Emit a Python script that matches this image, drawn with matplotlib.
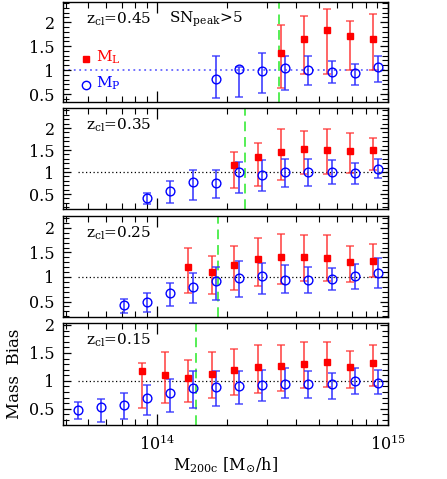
import matplotlib
matplotlib.use("Agg")
import matplotlib.pyplot as plt
from matplotlib.ticker import LogLocator, MultipleLocator, NullFormatter, FixedLocator
import numpy as np

plt.rcParams['font.family'] = ['DejaVu Serif']
plt.rcParams['mathtext.fontset'] = 'dejavuserif'

# mass bin centres (M_sun/h)
mass_bins = [4.52e13, 5.69e13, 7.16e13, 9.02e13, 1.135e14, 1.429e14, 1.80e14,
             2.26e14, 2.85e14, 3.59e14, 4.52e14, 5.69e14, 7.16e14, 9.02e14]

redshifts = ["0.45", "0.35", "0.25", "0.15"]
mass_cut = [3.38e14, 2.40e14, 1.84e14, 1.47e14]

# M_P (blue) : first bin index, value, lower bound, upper bound
mp_start = [6, 3, 2, 0]
mp_val = [
    [0.82, 1.03, 0.98, 1.05, 1.01, 0.97, 0.94, 1.06],
    [0.42, 0.58, 0.77, 0.76, 1.00, 0.93, 1.01, 1.01, 1.01, 0.97, 1.06],
    [0.43, 0.50, 0.68, 0.80, 0.92, 0.97, 1.01, 0.94, 0.94, 0.95, 1.01, 1.09],
    [0.48, 0.53, 0.56, 0.69, 0.79, 0.87, 0.89, 0.90, 0.93, 0.94, 0.94, 0.94, 0.99, 0.96],
]
mp_lo = [
    [0.41, 0.44, 0.53, 0.58, 0.68, 0.72, 0.69, 0.76],
    [0.28, 0.30, 0.36, 0.42, 0.52, 0.58, 0.67, 0.68, 0.72, 0.72, 0.87],
    [0.26, 0.29, 0.41, 0.46, 0.53, 0.59, 0.66, 0.67, 0.68, 0.73, 0.75, 0.78],
    [0.32, 0.27, 0.32, 0.39, 0.45, 0.51, 0.55, 0.58, 0.64, 0.69, 0.69, 0.68, 0.76, 0.76],
]
mp_hi = [
    [1.29, 1.06, 1.36, 1.29, 1.29, 1.19, 1.13, 1.29],
    [0.53, 0.80, 1.05, 1.05, 1.23, 1.27, 1.29, 1.29, 1.27, 1.21, 1.29],
    [0.56, 0.68, 0.88, 1.09, 1.21, 1.33, 1.29, 1.24, 1.21, 1.19, 1.27, 1.38],
    [0.63, 0.67, 0.79, 0.93, 1.04, 1.17, 1.17, 1.17, 1.20, 1.23, 1.17, 1.14, 1.23, 1.20],
]

# M_L (red)
ml_start = [9, 7, 5, 3]
ml_val = [
    [1.36, 1.64, 1.83, 1.72, 1.64],
    [1.17, 1.35, 1.45, 1.53, 1.50, 1.48, 1.50],
    [1.20, 1.10, 1.24, 1.36, 1.41, 1.41, 1.38, 1.31, 1.33],
    [1.17, 1.11, 1.06, 1.13, 1.20, 1.24, 1.27, 1.30, 1.33, 1.24, 1.32],
]
ml_lo = [
    [0.63, 0.91, 0.91, 1.00, 1.00],
    [0.64, 0.68, 0.83, 0.96, 0.96, 0.98, 1.04],
    [0.68, 0.65, 0.73, 0.82, 0.86, 0.92, 0.92, 0.90, 0.99],
    [0.51, 0.60, 0.62, 0.69, 0.75, 0.78, 0.82, 0.87, 0.89, 0.87, 0.91],
]
ml_hi = [
    [1.94, 2.13, 2.28, 2.02, 2.18],
    [1.45, 1.67, 1.97, 1.93, 1.97, 1.88, 1.78],
    [1.60, 1.43, 1.63, 1.79, 1.88, 1.85, 1.85, 1.63, 1.68],
    [1.32, 1.51, 1.38, 1.51, 1.57, 1.65, 1.65, 1.69, 1.69, 1.54, 1.65],
]

ylims = [(0.34, 2.42), (0.16, 2.45), (0.19, 2.25), (0.21, 2.03)]

W, H = 447, 479
fig = plt.figure(figsize=(W / 100, H / 100), dpi=100)
left = 63 / W
width = (388 - 63) / W
frames = [(2, 101.7), (108.3, 209), (215.7, 316.7), (323.3, 425)]

red_off = 0.955
for p in range(4):
    top, bot = frames[p]
    ax = fig.add_axes([left, (H - bot) / H, width, (bot - top) / H])
    ax.set_xscale('log')
    ax.set_xlim(3.9e13, 1.0e15)
    ax.set_ylim(*ylims[p])

    # reference line
    if p == 0:
        ax.axhline(1.0, color='#6666ff', ls=(0, (1, 2)), lw=1.3, zorder=1)
    else:
        ax.hlines(1.0, mass_bins[0], 1.0e15, color='black', ls=(0, (1, 2)), lw=0.9, zorder=1)

    ax.axvline(mass_cut[p], color='#55ee55', ls=(0, (5, 3)), lw=1.4, zorder=2)

    # red M_L
    s = ml_start[p]
    n = len(ml_val[p])
    xr = np.array(mass_bins[s:s + n]) * red_off
    v = np.array(ml_val[p]); lo = np.array(ml_lo[p]); hi = np.array(ml_hi[p])
    ax.errorbar(xr, v, yerr=[v - lo, hi - v], fmt='none', ecolor='#ff3030',
                elinewidth=1.3, capsize=3, capthick=1.1, alpha=0.8, zorder=3)
    ax.plot(xr, v, 's', color='red', ms=4.5, mec='red', zorder=4)

    # blue M_P
    s = mp_start[p]
    n = len(mp_val[p])
    xb = np.array(mass_bins[s:s + n])
    v = np.array(mp_val[p]); lo = np.array(mp_lo[p]); hi = np.array(mp_hi[p])
    ax.errorbar(xb, v, yerr=[v - lo, hi - v], fmt='none', ecolor='#3030ff',
                elinewidth=1.3, capsize=3, capthick=1.1, alpha=0.85, zorder=3)
    ax.plot(xb, v, 'o', mfc='none', mec='blue', mew=1.0, ms=6.3, zorder=4)

    # ticks
    ax.yaxis.set_major_locator(FixedLocator([0.5, 1.0, 1.5, 2.0]))
    ax.yaxis.set_minor_locator(MultipleLocator(0.1))
    ax.set_yticklabels(['0.5', '1', '1.5', '2'])
    ax.xaxis.set_major_locator(LogLocator(base=10, numticks=10))
    ax.xaxis.set_minor_locator(LogLocator(base=10, subs=np.arange(2, 10), numticks=20))
    ax.xaxis.set_minor_formatter(NullFormatter())
    ax.tick_params(which='both', direction='in', top=True, right=True, labelsize=11.5)
    ax.tick_params(which='major', length=8, width=0.9)
    ax.tick_params(which='minor', length=4, width=0.8)
    ax.tick_params(axis='y', which='major', length=6, pad=6)
    if p < 3:
        ax.tick_params(axis='x', labelbottom=False)
    else:
        ax.tick_params(axis='x', pad=7)
    for sp in ax.spines.values():
        sp.set_linewidth(1.0)

    ax.text(0.07, 0.83, r'$\mathregular{z_{cl}}$=' + redshifts[p], transform=ax.transAxes,
            fontsize=11, ha='left', va='center')
    if p == 0:
        ax.text(0.325, 0.83, r'$\mathregular{SN_{peak}}$>5', transform=ax.transAxes,
                fontsize=11, ha='left', va='center')
        ax.plot([0.072], [0.425], 's', color='red', ms=4.5, transform=ax.transAxes)
        ax.text(0.10, 0.445, r'$\mathregular{M_L}$', color='red', transform=ax.transAxes,
                fontsize=11, ha='left', va='center')
        ax.plot([0.072], [0.165], 'o', mfc='none', mec='blue', ms=6, transform=ax.transAxes)
        ax.text(0.10, 0.185, r'$\mathregular{M_P}$', color='blue', transform=ax.transAxes,
                fontsize=11, ha='left', va='center')
    if p == 3:
        ax.set_ylabel('Mass  Bias', fontsize=12, labelpad=4)
        ax.set_xlabel(r'$\mathregular{M_{200c}}$ [$\mathregular{M_{\odot}}$/h]', fontsize=11.5, labelpad=1)

fig.savefig('out.png', dpi=100)
